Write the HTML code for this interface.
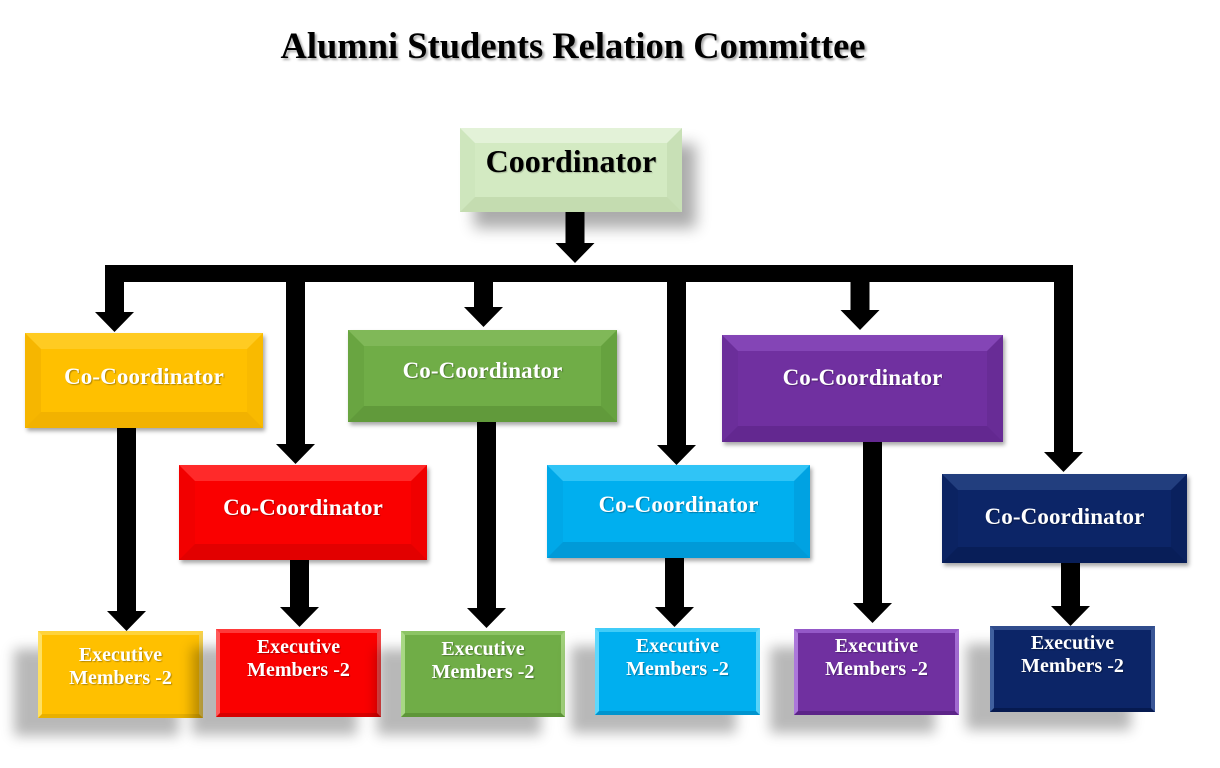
<!DOCTYPE html>
<html>
<head>
<meta charset="utf-8">
<style>
  html,body{margin:0;padding:0;}
  body{width:1220px;height:768px;background:#fff;position:relative;overflow:hidden;
       font-family:"Liberation Serif","Times New Roman",serif;}
  .title{position:absolute;left:0;width:1146px;top:28px;text-align:center;font-weight:bold;
         font-size:36.5px;line-height:36px;color:#000;text-shadow:2px 2px 2px rgba(0,0,0,0.35);}
  .b{position:absolute;box-sizing:border-box;border-style:solid;}
  .cc{border-width:16px;box-shadow:2px 3px 4px rgba(0,0,0,0.35);}
  .ex{border-width:4px;box-shadow:-24px 18px 12px rgba(0,0,0,0.28);}
  .t{position:absolute;color:#fff;font-weight:bold;text-align:center;white-space:nowrap;
     text-shadow:1px 1px 1px rgba(0,0,0,0.3);}
  .t23{font-size:23px;line-height:23px;letter-spacing:0.1px;}
  .t20{font-size:20px;line-height:23px;}

  .yel{background:#FFC000;border-color:#FFCB22 #F9BA00 #F2B200 #F6B600;}
  .red{background:#FA0000;border-color:#FF2A2A #F00000 #E20000 #F20000;}
  .grn{background:#70AD47;border-color:#80B858 #66A23F #619A3B #69A541;}
  .cyn{background:#00AFEF;border-color:#30C4F6 #00A2E2 #009AD8 #00A8E8;}
  .pur{background:#7030A0;border-color:#8445B6 #682C96 #632890 #6B2E9A;}
  .nav{background:#0C2567;border-color:#223E7E #0A215E #081E58 #0B2362;}

  .yel.ex{border-color:#FFD33A #F3D050 #E8B000 #FFE060;}
  .red.ex{border-color:#FF3A3A #F04848 #D80000 #FF5A5A;}
  .grn.ex{border-color:#8CC464 #A0D07A #5E9638 #A8D884;}
  .cyn.ex{border-color:#40CCF8 #58D4FA #0094CE #60D8FC;}
  .pur.ex{border-color:#9458C8 #A46CD4 #5C2488 #AC78DA;}
  .nav.ex{border-color:#304C8C #3A5696 #061A50 #40609E;}

  .coord{left:460px;top:128px;width:222px;height:84px;border-width:15px;
         background:#D3EAC2;border-color:#E3F2D8 #C8E0B6 #C4DCB0 #CEE6BD;
         box-shadow:14px 16px 14px rgba(0,0,0,0.33);}
</style>
</head>
<body>

<div class="title">Alumni Students Relation Committee</div>

<!-- Coordinator -->
<div class="b coord"></div>
<div class="t" style="left:460px;width:222px;top:146px;font-size:32px;line-height:31px;color:#000;text-shadow:1px 1px 1px rgba(0,0,0,0.2);">Coordinator</div>

<!-- Co-Coordinator boxes -->
<div class="b cc yel" style="left:25px;top:333px;width:238px;height:95px;"></div>
<div class="t t23" style="left:25px;width:238px;top:365px;">Co-Coordinator</div>

<div class="b cc red" style="left:179px;top:465px;width:248px;height:95px;"></div>
<div class="t t23" style="left:179px;width:248px;top:496px;">Co-Coordinator</div>

<div class="b cc grn" style="left:348px;top:330px;width:269px;height:92px;"></div>
<div class="t t23" style="left:348px;width:269px;top:359px;">Co-Coordinator</div>

<div class="b cc cyn" style="left:547px;top:465px;width:263px;height:93px;"></div>
<div class="t t23" style="left:547px;width:263px;top:493px;">Co-Coordinator</div>

<div class="b cc pur" style="left:722px;top:335px;width:281px;height:107px;"></div>
<div class="t t23" style="left:722px;width:281px;top:366px;">Co-Coordinator</div>

<div class="b cc nav" style="left:942px;top:474px;width:245px;height:89px;"></div>
<div class="t t23" style="left:942px;width:245px;top:505px;">Co-Coordinator</div>

<!-- Executive boxes -->
<div class="b ex yel" style="left:38px;top:631px;width:165px;height:87px;"></div>
<div class="t t20" style="left:38px;width:165px;top:644px;">Executive<br>Members -2</div>

<div class="b ex red" style="left:216px;top:629px;width:165px;height:88px;"></div>
<div class="t t20" style="left:216px;width:165px;top:636px;">Executive<br>Members -2</div>

<div class="b ex grn" style="left:401px;top:631px;width:164px;height:86px;"></div>
<div class="t t20" style="left:401px;width:164px;top:638px;">Executive<br>Members -2</div>

<div class="b ex cyn" style="left:595px;top:628px;width:165px;height:87px;"></div>
<div class="t t20" style="left:595px;width:165px;top:635px;">Executive<br>Members -2</div>

<div class="b ex pur" style="left:794px;top:629px;width:165px;height:86px;"></div>
<div class="t t20" style="left:794px;width:165px;top:635px;">Executive<br>Members -2</div>

<div class="b ex nav" style="left:990px;top:626px;width:165px;height:86px;"></div>
<div class="t t20" style="left:990px;width:165px;top:632px;">Executive<br>Members -2</div>

<!-- Connectors -->
<svg width="1220" height="768" style="position:absolute;left:0;top:0;" xmlns="http://www.w3.org/2000/svg">
  <g fill="#000">
    <rect x="105" y="265" width="968" height="17"/>
    <path d="M565.5 212 H584.5 V243 H594.5 L575 263 L555.5 243 H565.5 Z"/>
    <path d="M105 265 H124 V312 H134 L114.5 332 L95 312 H105 Z"/>
    <path d="M286 280 H305 V444 H315 L295.5 464 L276 444 H286 Z"/>
    <path d="M474 280 H493 V307 H503 L483.5 327 L464 307 H474 Z"/>
    <path d="M667 280 H686 V445 H696 L676.5 465 L657 445 H667 Z"/>
    <path d="M850.5 280 H869.5 V310 H879.5 L860 330 L840.5 310 H850.5 Z"/>
    <path d="M1054 265 H1073 V452 H1083 L1063.5 472 L1044 452 H1054 Z"/>
    <path d="M117 428 H136 V611 H146 L126.5 631 L107 611 H117 Z"/>
    <path d="M290 560 H309 V607 H319 L299.5 627 L280 607 H290 Z"/>
    <path d="M477 422 H496 V608 H506 L486.5 628 L467 608 H477 Z"/>
    <path d="M665 558 H684 V607 H694 L674.5 627 L655 607 H665 Z"/>
    <path d="M863 442 H882 V603 H892 L872.5 623 L853 603 H863 Z"/>
    <path d="M1061 563 H1080 V606 H1090 L1070.5 626 L1051 606 H1061 Z"/>
  </g>
</svg>

</body>
</html>
